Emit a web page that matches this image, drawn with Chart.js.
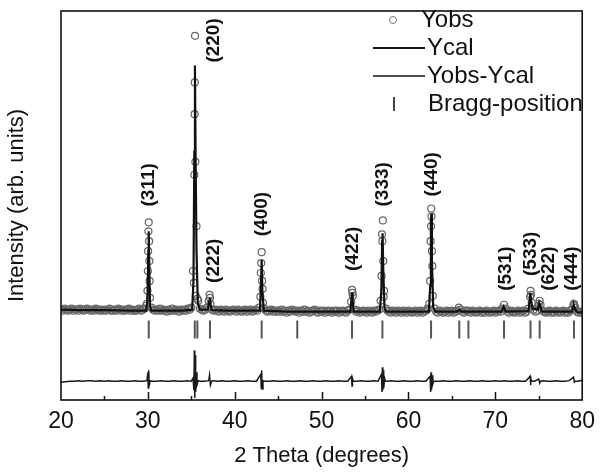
<!DOCTYPE html>
<html>
<head>
<meta charset="utf-8">
<script src="https://cdn.jsdelivr.net/npm/chart.js@4.4.1/dist/chart.umd.min.js"></script>
<style>
  html, body { margin: 0; padding: 0; background: #fff; }
  canvas { display: block; }
</style>
</head>
<body>
<canvas id="xrd" width="603" height="473"></canvas>
<script>
// observed pattern on the scan grid (start 20, step 0.2 deg), arb. units
const scanStart = 20;
const scanStep = 0.2;
const obsGrid = [
  91,90,92,91,90,91,92,90,91,91,90,92,91,90,91,92,91,90,91,90,92,91,90,91,90,
  91,90,91,92,90,90,91,90,92,91,90,91,90,91,92,90,91,90,90,91,92,90,91,92,95,
  130,120,93,91,90,91,90,92,90,91,90,89,91,90,92,90,91,90,89,91,90,91,90,92,91,
  93,130,320,175,100,92,91,90,91,93,100,97,91,90,91,90,89,91,90,89,91,90,89,90,91,
  90,89,91,90,89,90,91,89,90,91,89,90,91,90,93,128,112,92,90,89,90,91,89,90,89,
  90,89,91,89,90,88,90,89,91,90,89,90,88,90,89,91,89,90,88,89,90,91,89,88,90,
  89,90,88,89,90,89,88,90,89,90,88,89,90,89,88,90,91,99,105,91,89,90,88,89,90,
  89,88,90,89,88,90,89,90,91,100,160,110,92,90,89,88,90,89,88,90,89,88,90,89,88,
  90,89,88,89,90,88,89,90,88,89,90,92,97,175,105,92,89,88,90,89,88,89,90,88,89,
  90,88,89,90,93,91,89,88,90,90,89,88,90,89,88,89,90,88,89,88,90,89,88,89,90,
  88,89,90,89,92,96,92,89,88,90,89,88,89,90,88,89,90,88,89,92,104,98,91,89,90,
  97,96,90,89,88,89,90,88,89,88,90,89,88,89,90,88,89,88,90,91,96,93,89,88,89,
  88
];

// extra observed points on the peak flanks
const obsPeakX = [29.9, 29.95, 30.03, 30.06, 30.1, 30.14, 30.17, 30.25,
  35.3, 35.35, 35.38, 35.43, 35.47, 35.52, 35.7,
  37.1, 37.15,
  42.95, 43.05, 43.1, 43.15, 43.25,
  53.5, 53.55,
  56.9, 56.95, 57.05, 57.1, 57.15,
  62.5, 62.55, 62.62, 62.65, 62.7, 62.75,
  74.05, 74.1, 75.1, 79.05, 79.1];
const obsPeakY = [97, 110, 150, 170, 179, 160, 140, 103,
  118, 227, 288, 367, 240, 105, 102,
  106, 103,
  104, 138, 149, 120, 98,
  111, 108,
  125, 167, 181, 140, 104,
  120, 160, 193, 185, 150, 135,
  110, 106, 100, 97, 95];

// calculated profile
const calX = [20, 22, 25, 28, 29.8, 29.95, 30.05, 30.1, 30.15, 30.25, 30.4, 32, 34,
  35.1, 35.25, 35.35, 35.42, 35.5, 35.6, 35.75, 36, 36.9, 37.05, 37.12, 37.2, 37.35,
  39, 42, 42.9, 43.02, 43.1, 43.18, 43.35, 46, 50, 53.3, 53.42, 53.5, 53.58, 53.7,
  56.7, 56.88, 56.97, 57.02, 57.1, 57.25, 57.45, 60, 62.35, 62.5, 62.58, 62.63, 62.7,
  62.85, 63.1, 65.6, 65.85, 66.1, 70.7, 70.95, 71.2, 73.8, 73.95, 74.03, 74.12, 74.3,
  74.9, 75.05, 75.15, 75.35, 78.8, 78.97, 79.05, 79.15, 79.4, 80];
const calY = [91, 90.5, 90.5, 90, 90, 100, 150, 170, 140, 95, 90, 90, 90,
  91, 120, 250, 337, 240, 150, 98, 91, 91, 99, 103, 97, 90.5,
  90, 90, 90, 115, 141, 110, 90, 89, 89, 89, 100, 108, 100, 89,
  89, 110, 160, 168, 130, 92, 89, 89, 89, 115, 180, 188, 140,
  93, 89, 89, 91, 89, 89, 94, 89, 89.5, 100, 108, 100, 92,
  91, 98, 96, 89, 89, 94, 95, 92, 88.5, 88];

// difference curve Yobs - Ycal (shifted)
const diffX = [20, 20.5, 21, 21.5, 22, 22.5, 23, 23.5, 24, 24.5, 25, 25.5, 26, 26.5, 27,
  27.5, 28, 28.5, 29, 29.5, 29.9, 30.0, 30.05, 30.1, 30.15, 30.25, 30.5, 31, 31.5, 32,
  32.5, 33, 33.5, 34, 34.5, 35, 35.2, 35.3, 35.35, 35.4, 35.45, 35.5, 35.55, 35.65, 35.8,
  36, 36.5, 37.0, 37.1, 37.2, 37.35, 37.5, 38, 38.5, 39, 39.5, 40, 40.5, 41, 41.5, 42,
  42.5, 43.0, 43.05, 43.1, 43.15, 43.25, 43.5, 44, 44.5, 45, 45.5, 46, 46.5, 47, 47.5,
  48, 48.5, 49, 49.5, 50, 50.5, 51, 51.5, 52, 52.5, 53, 53.45, 53.5, 53.55, 53.65, 54,
  54.5, 55, 55.5, 56, 56.5, 56.9, 56.95, 57.0, 57.05, 57.1, 57.15, 57.25, 57.35, 57.5,
  58, 58.5, 59, 59.5, 60, 60.5, 61, 61.5, 62, 62.5, 62.55, 62.6, 62.65, 62.72, 62.8,
  62.9, 63.5, 64, 64.5, 65, 65.5, 66, 66.5, 67, 67.5, 68, 68.5, 69, 69.5, 70, 70.5, 71,
  71.5, 72, 72.5, 73, 73.5, 74.0, 74.05, 74.1, 74.2, 74.5, 75.0, 75.1, 75.2, 75.5, 76,
  76.5, 77, 77.5, 78, 78.5, 79.0, 79.1, 79.2, 79.5, 80];
const diffY = [18, 18.5, 19, 19, 19.5, 19, 19.5, 19.5, 19, 19.5, 19, 19.5, 19, 19, 19.5,
  19, 19, 19.5, 19, 19, 19.5, 28, 12, 30, 14, 19.5, 19, 19, 19.5, 19,
  19, 19.5, 19, 19, 19.5, 19, 22, 10, 50, 2, 45, 8, 28, 15, 19.5,
  19, 19, 19.5, 25, 15, 19, 19.5, 19, 19.5, 19, 19, 19.5, 19, 19, 19.5, 19,
  19, 26, 12, 30, 11, 19.5, 19, 19, 19.5, 19, 19, 19.5, 19, 19, 19.5,
  19, 19, 19.5, 19, 19, 19.5, 19, 19, 19.5, 19, 19, 24, 14, 22, 19, 19,
  19.5, 19, 19, 19.5, 19, 26, 8, 33, 10, 30, 12, 22, 19, 19,
  19.5, 19, 19, 19.5, 19, 19, 19.5, 19, 19, 24, 8, 28, 10, 25, 16,
  19, 19, 19.5, 19, 19, 19.5, 19, 19, 19.5, 19, 19, 19.5, 19, 19, 19.5, 19, 19.5,
  19, 19, 19.5, 19, 19, 24, 15, 21, 19, 19, 21, 17, 19, 19.5, 19,
  19, 19.5, 19, 19, 19.5, 23, 18, 19, 19, 20];

// Bragg reflection positions
const braggX = [30.1, 35.4, 35.7, 37.15, 43.1, 47.2, 53.5, 57.0, 62.6, 65.85, 66.9, 71.0, 74.05, 75.1, 79.05];
const braggLevel = 71;

// (hkl) annotations
const hklText = ['(311)', '(220)', '(222)', '(400)', '(422)', '(333)', '(440)', '(531)', '(533)', '(622)', '(444)'];
const hklX = [30.1, 37.55, 37.55, 43.1, 53.6, 57.0, 62.65, 71.2, 74.05, 76.1, 78.8];
const hklY = [195, 340, 118, 165, 130, 195, 205, 110, 125, 110, 110];

const obsPts = obsGrid.map((y, i) => ({ x: +(scanStart + i * scanStep).toFixed(2), y: y }))
  .concat(obsPeakX.map((x, i) => ({ x: x, y: obsPeakY[i] })));
const calPts = calX.map((x, i) => ({ x: x, y: calY[i] }));
const diffPts = diffX.map((x, i) => ({ x: x, y: diffY[i] }));
const braggPts = braggX.map(x => ({ x: x, y: braggLevel }));

const FONT = '"Liberation Sans", Arial, sans-serif';

const decorations = {
  id: 'decorations',
  afterDatasetsDraw(chart) {
    const ctx = chart.ctx;
    const xs = chart.scales.x, ys = chart.scales.y;
    const a = chart.chartArea;
    ctx.save();
    // hkl labels
    ctx.fillStyle = '#111';
    ctx.font = 'bold 19px ' + FONT;
    ctx.textAlign = 'left';
    ctx.textBaseline = 'middle';
    hklText.forEach((t, i) => {
      ctx.save();
      ctx.translate(xs.getPixelForValue(hklX[i]), ys.getPixelForValue(hklY[i]));
      ctx.rotate(-Math.PI / 2);
      ctx.fillText(t, 0, 0);
      ctx.restore();
    });
    // inward ticks on the bottom axis
    ctx.strokeStyle = '#111';
    ctx.lineWidth = 1.5;
    for (let v = 25; v < 80; v += 5) {
      const px = Math.round(xs.getPixelForValue(v)) + 0.5;
      const len = v % 10 === 0 ? 8 : 4;
      ctx.beginPath();
      ctx.moveTo(px, a.bottom);
      ctx.lineTo(px, a.bottom - len);
      ctx.stroke();
    }
    // frame
    ctx.lineWidth = 1.6;
    ctx.strokeRect(a.left, a.top, a.right - a.left, a.bottom - a.top);

    // legend
    const ds = chart.data.datasets;
    const rows = [20, 48, 76, 104];
    const mx = 393, lx0 = 373, lx1 = 425, tx = 427;
    ctx.font = '24px ' + FONT;
    ctx.textBaseline = 'middle';
    ctx.fillStyle = '#111';
    // Yobs
    ctx.strokeStyle = '#777';
    ctx.lineWidth = 1;
    ctx.beginPath();
    ctx.arc(mx, rows[0], 3.5, 0, Math.PI * 2);
    ctx.stroke();
    ctx.fillText(ds[0].label, 421, rows[0]);
    // Ycal
    ctx.strokeStyle = '#111';
    ctx.lineWidth = 2;
    ctx.beginPath(); ctx.moveTo(lx0, rows[1]); ctx.lineTo(lx1, rows[1]); ctx.stroke();
    ctx.fillText(ds[1].label, tx, rows[1]);
    // Yobs-Ycal
    ctx.lineWidth = 1.5;
    ctx.beginPath(); ctx.moveTo(lx0, rows[2]); ctx.lineTo(lx1, rows[2]); ctx.stroke();
    ctx.fillText(ds[2].label, tx, rows[2]);
    // Bragg
    ctx.strokeStyle = '#444';
    ctx.lineWidth = 2;
    ctx.beginPath(); ctx.moveTo(mx + 1, rows[3] - 7); ctx.lineTo(mx + 1, rows[3] + 7); ctx.stroke();
    ctx.fillText(ds[3].label, tx + 1, rows[3]);
    ctx.restore();
  }
};

new Chart(document.getElementById('xrd').getContext('2d'), {
  type: 'scatter',
  data: {
    datasets: [
      {
        label: 'Yobs',
        data: obsPts,
        showLine: false,
        pointStyle: 'circle',
        pointRadius: 3.5,
        borderColor: '#666',
        backgroundColor: 'rgba(0,0,0,0)',
        borderWidth: 1.2,
        order: 2
      },
      {
        label: 'Ycal',
        data: calPts,
        showLine: true,
        borderColor: '#111',
        borderWidth: 2.2,
        pointRadius: 0,
        order: 1
      },
      {
        label: 'Yobs-Ycal',
        data: diffPts,
        showLine: true,
        borderColor: '#1a1a1a',
        borderWidth: 1.5,
        pointRadius: 0,
        order: 1
      },
      {
        label: 'Bragg-position',
        data: braggPts,
        showLine: false,
        pointStyle: 'line',
        rotation: 90,
        pointRadius: 9,
        borderColor: '#555',
        borderWidth: 2,
        order: 0
      }
    ]
  },
  options: {
    responsive: false,
    animation: false,
    devicePixelRatio: 1,
    layout: { padding: { left: 0, top: 8, right: 16, bottom: 0 } },
    plugins: {
      legend: { display: false },
      tooltip: { enabled: false }
    },
    scales: {
      x: {
        type: 'linear',
        position: 'bottom',
        min: 20,
        max: 80,
        grid: { display: false, drawTicks: false },
        border: { display: false },
        ticks: { stepSize: 10, padding: 8, color: '#111', font: { family: FONT, size: 23 } },
        title: {
          display: true,
          text: '2 Theta (degrees)',
          color: '#111',
          font: { family: FONT, size: 22 },
          padding: { top: 0, bottom: 4 }
        },
        afterFit: s => { s.height = 73; }
      },
      y: {
        type: 'linear',
        min: 0,
        max: 392,
        grid: { display: false, drawTicks: false },
        border: { display: false },
        ticks: { display: false },
        title: {
          display: true,
          text: 'Intensity (arb. units)',
          color: '#111',
          font: { family: FONT, size: 22 },
          padding: { top: 4, bottom: 0 }
        },
        afterFit: s => { s.width = 61; }
      }
    }
  },
  plugins: [decorations]
});
</script>
</body>
</html>
